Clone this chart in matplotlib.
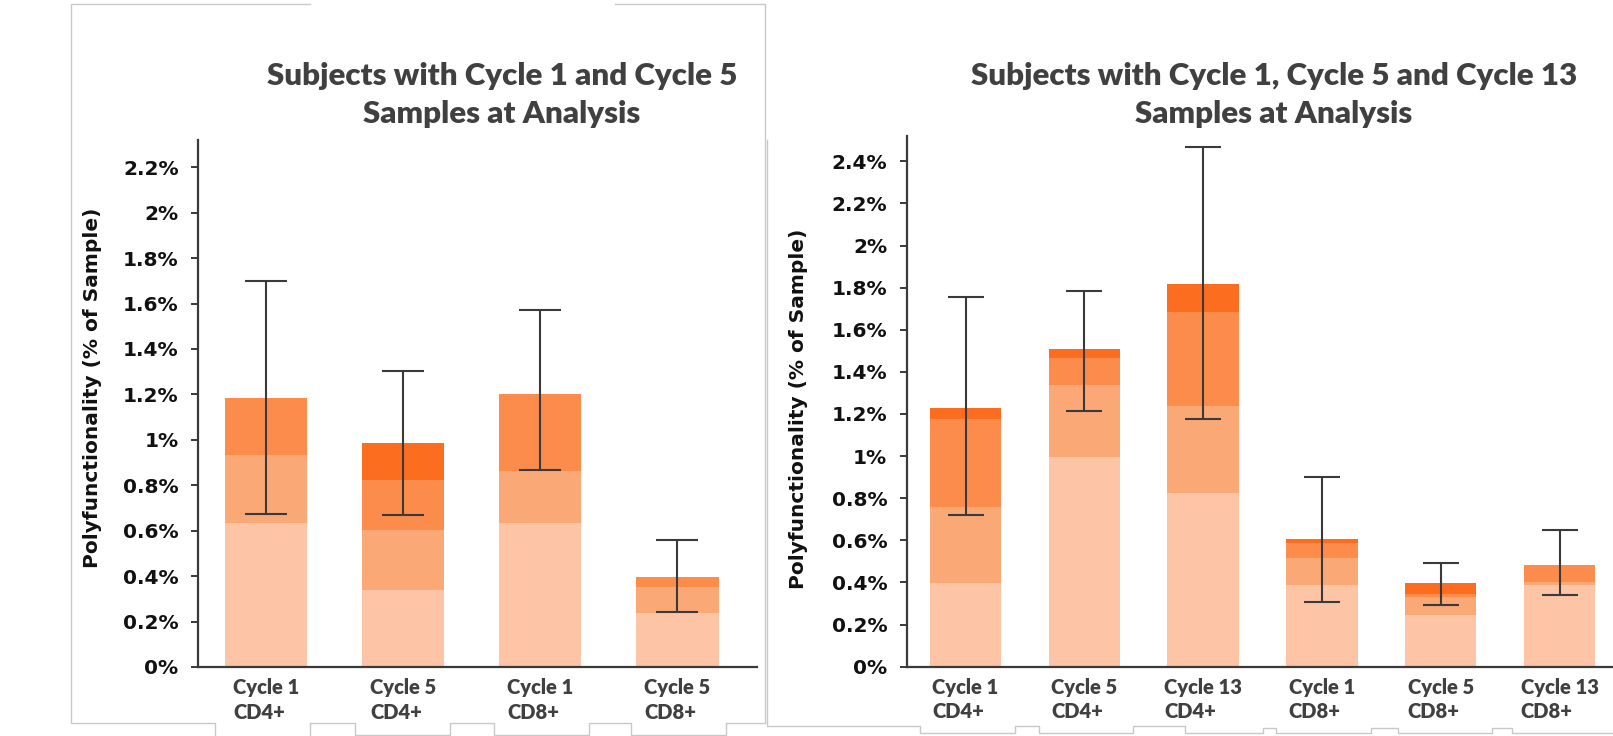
import matplotlib
matplotlib.use("Agg")
import matplotlib.pyplot as plt
from matplotlib.lines import Line2D
from matplotlib.ticker import FuncFormatter
import numpy as np

# ---------------- data ----------------
left_title = "Subjects with Cycle 1 and Cycle 5\nSamples at Analysis"
left_categories = ["Cycle 1\nCD4+", "Cycle 5\nCD4+", "Cycle 1\nCD8+", "Cycle 5\nCD8+"]
left_seg1 = [0.634, 0.338, 0.636, 0.239]
left_seg2 = [0.300, 0.267, 0.227, 0.115]
left_seg3 = [0.252, 0.219, 0.340, 0.041]
left_seg4 = [0.000, 0.160, 0.000, 0.000]
left_err_low = [0.674, 0.667, 0.866, 0.242]
left_err_high = [1.700, 1.304, 1.570, 0.559]
left_yticks = [0, 0.2, 0.4, 0.6, 0.8, 1.0, 1.2, 1.4, 1.6, 1.8, 2.0, 2.2]

right_title = "Subjects with Cycle 1, Cycle 5 and Cycle 13\nSamples at Analysis"
right_categories = ["Cycle 1\nCD4+", "Cycle 5\nCD4+", "Cycle 13\nCD4+",
                    "Cycle 1\nCD8+", "Cycle 5\nCD8+", "Cycle 13\nCD8+"]
right_seg1 = [0.396, 0.995, 0.826, 0.387, 0.247, 0.388]
right_seg2 = [0.360, 0.341, 0.410, 0.130, 0.086, 0.016]
right_seg3 = [0.421, 0.130, 0.450, 0.069, 0.011, 0.081]
right_seg4 = [0.051, 0.041, 0.130, 0.021, 0.052, 0.000]
right_err_low = [0.721, 1.214, 1.174, 0.306, 0.295, 0.342]
right_err_high = [1.754, 1.786, 2.469, 0.903, 0.494, 0.651]
right_yticks = [0, 0.2, 0.4, 0.6, 0.8, 1.0, 1.2, 1.4, 1.6, 1.8, 2.0, 2.2, 2.4]

y_label = "Polyfunctionality (% of Sample)"

# ---------------- style ----------------
plt.rcParams["font.family"] = ["DejaVu Sans"]
plt.rcParams["font.weight"] = "bold"
seg_colors = ["#FDC4A5", "#FAA876", "#FB8C4C", "#FC6D1F"]
axis_col = "#3a3a3a"
title_col = "#404040"
W, H = 1613, 736
fig = plt.figure(figsize=(W / 100, H / 100), dpi=100)

def fx(px):
    return px / W

def fy(py):
    return 1 - py / H

def panel(rect, cats, segs, lo, hi, yticks, ylim, xlim, capsize, title, title_x, ylabel_x, ylabel_y):
    ax = fig.add_axes(rect)
    x = np.arange(len(cats))
    bottom = np.zeros(len(cats))
    for s, c in zip(segs, seg_colors):
        s = np.array(s)
        ax.bar(x, s, width=0.6, bottom=bottom, color=c, edgecolor="none", zorder=2)
        bottom += s
    lo = np.array(lo)
    hi = np.array(hi)
    ax.errorbar(x, (lo + hi) / 2, yerr=(hi - lo) / 2, fmt="none", ecolor=axis_col,
                elinewidth=1.5, capsize=capsize, capthick=1.5, zorder=3)
    ax.set_xlim(*xlim)
    ax.set_ylim(*ylim)
    ax.tick_params(axis="x", length=0, pad=8)
    ax.tick_params(axis="y", length=5, width=1.4, color=axis_col, pad=9,
                   labelsize=14.5, labelcolor="#111111")
    ax.set_yticks(yticks)
    ax.yaxis.set_major_formatter(FuncFormatter(lambda v, p: "{:g}%".format(round(v, 1))))
    ax.set_xticks(x)
    ax.set_xticklabels(cats, multialignment="left", linespacing=1.35,
                       fontfamily="Lato", fontweight="heavy", fontsize=14.5, color=title_col)
    for sp in ["top", "right"]:
        ax.spines[sp].set_visible(False)
    for sp in ["left", "bottom"]:
        ax.spines[sp].set_color(axis_col)
        ax.spines[sp].set_linewidth(1.6)
    ax.patch.set_alpha(0)
    fig.text(fx(title_x), fy(95), title, ha="center", va="center", fontfamily="Lato",
             fontweight="heavy", fontsize=22.5, color=title_col, linespacing=1.4)
    fig.text(fx(ylabel_x), fy(ylabel_y), y_label, rotation=90, ha="center", va="center",
             fontfamily="DejaVu Sans", fontweight="bold", fontsize=14.5, color="#111111")
    return ax

panel([fx(198), fy(667), fx(757) - fx(198), fy(140) - fy(667)],
      left_categories, [left_seg1, left_seg2, left_seg3, left_seg4],
      left_err_low, left_err_high, left_yticks, (0, 2.32), (-0.496, 3.58), 15,
      left_title, 502, 93, 388)

panel([fx(906.7), fy(666.7), 1 - fx(906.7), fy(136) - fy(666.7)],
      right_categories, [right_seg1, right_seg2, right_seg3, right_seg4],
      right_err_low, right_err_high, right_yticks, (0, 2.52), (-0.495, 5.45), 13,
      right_title, 1274, 798, 409)

# ---------------- decorative screenshot frame lines ----------------
frame_col = "#c8c8c8"
polylines = [
    [(310, 4), (71, 4), (71, 723), (215, 723), (215, 736)],
    [(310, 736), (310, 723), (355, 723), (355, 735), (450, 735), (450, 723),
     (494, 723), (494, 735), (589, 735), (589, 723), (631, 723), (631, 735),
     (726, 735), (726, 723), (765, 723), (765, 4), (615, 4)],
    [(767, 140), (767, 726), (920, 726), (920, 733), (1015, 733), (1015, 726),
     (1039, 726), (1039, 733), (1133, 733), (1133, 726), (1185, 726), (1185, 733),
     (1263, 733), (1263, 728), (1276, 728), (1276, 733), (1371, 733), (1371, 728),
     (1398, 728), (1398, 733), (1492, 733), (1492, 728), (1512, 728), (1512, 733),
     (1613, 733)],
]
for pl in polylines:
    xs = [fx(p[0]) for p in pl]
    ys = [fy(p[1]) for p in pl]
    fig.add_artist(Line2D(xs, ys, color=frame_col, lw=1.0))

fig.savefig("out.png", dpi=100)
